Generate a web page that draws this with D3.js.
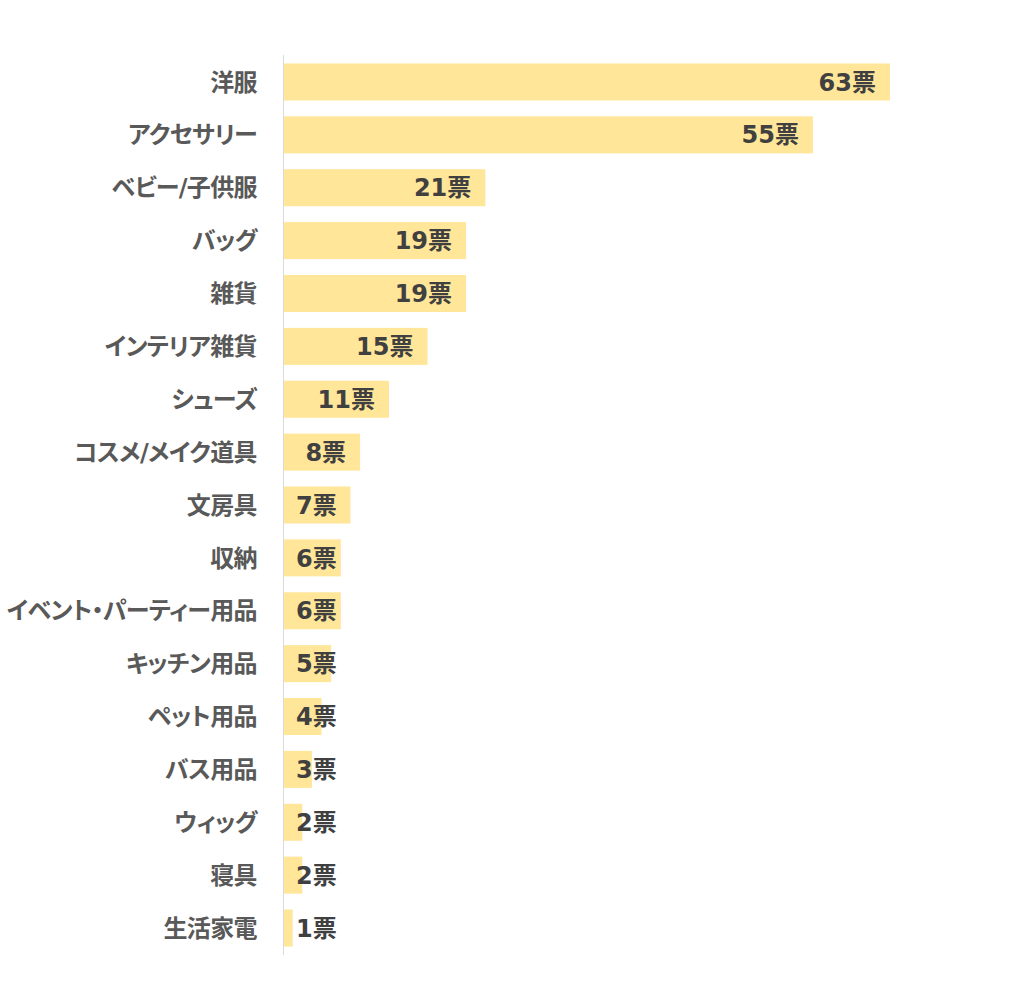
<!DOCTYPE html>
<html><head><meta charset="utf-8">
<script src="https://cdn.jsdelivr.net/npm/d3@7"></script>
<style>body{margin:0;background:#fff;} text{font-family:"DejaVu Sans","Noto Sans CJK JP",sans-serif;font-weight:700;font-feature-settings:"palt";}</style>
</head><body>
<svg id="c" width="1024" height="1002"></svg>
<script>
const categories = ["洋服","アクセサリー","ベビー/子供服","バッグ","雑貨","インテリア雑貨","シューズ","コスメ/メイク道具","文房具","収納","イベント・パーティー用品","キッチン用品","ペット用品","バス用品","ウィッグ","寝具","生活家電"];
const values = [63,55,21,19,19,15,11,8,7,6,6,5,4,3,2,2,1];
const unit = "票";

(function(){
const svg = d3.select("#c");
const mLeft = 283, mTop = 55, mBottom = 955;
const x = d3.scaleLinear().domain([0, 63]).range([mLeft, 890]);
const y = d3.scaleBand().domain(categories).range([mTop, mBottom]).paddingInner(0.3).paddingOuter(0.16);

svg.selectAll("rect.bar").data(values).join("rect")
  .attr("class","bar")
  .attr("x", mLeft)
  .attr("y", (d,i)=>y(categories[i]))
  .attr("width", d=>x(d)-mLeft)
  .attr("height", y.bandwidth())
  .attr("fill", "#FFE699");

svg.append("line").attr("x1",mLeft+0.5).attr("x2",mLeft+0.5).attr("y1",mTop).attr("y2",mBottom)
  .attr("stroke","#d9d9d9").attr("stroke-width",1);

svg.selectAll("text.cat").data(categories).join("text")
  .attr("class","cat")
  .attr("x", 257)
  .attr("y", d=>y(d)+y.bandwidth()/2)
  .attr("dy","0.36em")
  .attr("text-anchor","end")
  .attr("font-size", 24)
  .attr("letter-spacing", "-0.6px")
  .attr("fill","#595959")
  .text(d=>d);

svg.selectAll("text.val").data(values).join("text")
  .attr("class","val")
  .attr("y", (d,i)=>y(categories[i])+y.bandwidth()/2)
  .attr("dy","0.36em")
  .attr("text-anchor","start")
  .attr("font-size", 24)
  .attr("fill","#404040")
  .text(d=>d+unit)
  .each(function(d){
    const w = this.getComputedTextLength();
    const xs = Math.max(x(d)-14-w, mLeft+13);
    d3.select(this).attr("x", xs);
  });
})();
</script>
</body></html>
